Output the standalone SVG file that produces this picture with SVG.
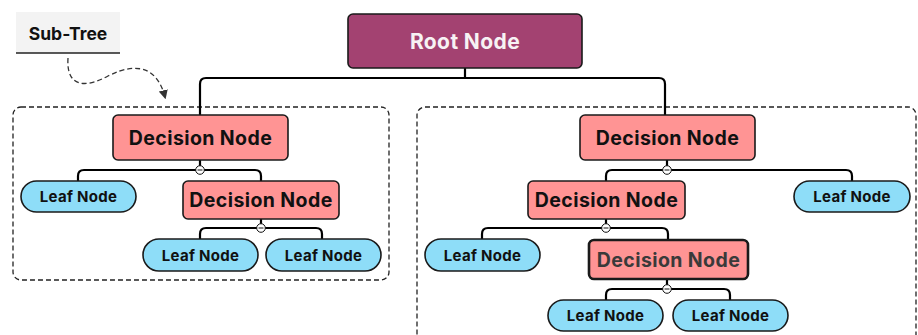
<svg xmlns="http://www.w3.org/2000/svg" width="918" height="335" viewBox="0 0 918 335">
  <defs>
    <style>
      .lbl { font-family: Inter, "Open Sans", "Liberation Sans", sans-serif; font-weight: 700; text-anchor: middle; dominant-baseline: central; }
      .dec rect { fill: #FF9494; stroke: #1a1a1a; stroke-width: 1.6; }
      .dec text { font-size: 19.5px; fill: #111; letter-spacing: 0.4px; }
      .leaf rect { fill: #8EDDF8; stroke: #1a1a1a; stroke-width: 1.6; }
      .leaf text { font-size: 15px; fill: #111; letter-spacing: 0.3px; }
      .wire { fill: none; stroke: #000; stroke-width: 2.2; stroke-linejoin: round; }
      .frame { fill: none; stroke: #222; stroke-width: 1.3; stroke-dasharray: 5 3; }
      .knob-ring { fill: #fff; stroke: #111; stroke-width: 1; }
      .knob-bar { stroke: #111; stroke-width: 1; }
    </style>
    <marker id="tip" viewBox="0 0 8 8" refX="6" refY="4" markerWidth="7" markerHeight="7" orient="auto">
      <path d="M0,0 L8,4 L0,8 Z" fill="#333"/>
    </marker>
    <g id="minus">
      <circle class="knob-ring" r="4.3"/>
      <line class="knob-bar" x1="-2.5" y1="0" x2="2.5" y2="0"/>
    </g>
  </defs>

  <rect width="918" height="335" fill="#fff"/>

  <!-- sub-tree frames -->
  <g id="frames">
    <rect class="frame" x="13" y="107" width="376" height="173" rx="8"/>
    <rect class="frame" x="417" y="107" width="499" height="260" rx="8"/>
  </g>

  <!-- callout label -->
  <g id="subtree-label">
    <rect x="16" y="12" width="104" height="41" fill="#F3F3F3"/>
    <line x1="16" y1="53" x2="120" y2="53" stroke="#222" stroke-width="1.5"/>
    <text class="lbl" x="68" y="33" font-size="17.5" fill="#111">Sub-Tree</text>
    <path d="M68,58 C66,88 86,88 108,76 C140,60 158,70 165,97" fill="none" stroke="#333" stroke-width="1.3" stroke-dasharray="5 3" marker-end="url(#tip)"/>
  </g>

  <!-- connectors -->
  <g id="connectors">
    <path class="wire" d="M465,68 V78 M200,117 V84 Q200,78 206,78 H659 Q665,78 665,84 V116"/>
    <path class="wire" d="M200,160 V170 M78,181 V176 Q78,170 84,170 H255 Q261,170 261,176 V181"/>
    <path class="wire" d="M261,219 V228 M200,239 V234 Q200,228 206,228 H316 Q322,228 322,234 V239"/>
    <path class="wire" d="M667,160 V170 M606,181 V176 Q606,170 612,170 H846 Q852,170 852,176 V181"/>
    <path class="wire" d="M606,219 V228 M482,239 V234 Q482,228 488,228 H662 Q668,228 668,234 V240"/>
    <path class="wire" d="M667,279 V289 M606,300 V295 Q606,289 612,289 H724 Q730,289 730,295 V300"/>
    <use href="#minus" x="200" y="170"/>
    <use href="#minus" x="261" y="228"/>
    <use href="#minus" x="667" y="170"/>
    <use href="#minus" x="606" y="228"/>
    <use href="#minus" x="667" y="289"/>
  </g>

  <!-- root -->
  <g id="root">
    <rect x="348" y="14" width="234" height="54" rx="5" fill="#A34271" stroke="#1a1a1a" stroke-width="1.6"/>
    <text class="lbl" x="465" y="41" font-size="21" fill="#F7F2F4" letter-spacing="0.4">Root Node</text>
  </g>

  <!-- left sub-tree -->
  <g id="dec-l1" class="dec">
    <rect x="113" y="115" width="175" height="45" rx="5"/>
    <text class="lbl" x="200.5" y="137.5">Decision Node</text>
  </g>
  <g id="leaf-l1" class="leaf">
    <rect x="21" y="181" width="115" height="31" rx="15.5"/>
    <text class="lbl" x="78.5" y="196.5">Leaf Node</text>
  </g>
  <g id="dec-l2" class="dec">
    <rect x="183" y="181" width="156" height="38" rx="5"/>
    <text class="lbl" x="261" y="200">Decision Node</text>
  </g>
  <g id="leaf-l2" class="leaf">
    <rect x="143" y="239" width="115" height="32" rx="16"/>
    <text class="lbl" x="200.5" y="255">Leaf Node</text>
  </g>
  <g id="leaf-l3" class="leaf">
    <rect x="266" y="239" width="115" height="32" rx="16"/>
    <text class="lbl" x="323.5" y="255">Leaf Node</text>
  </g>

  <!-- right sub-tree -->
  <g id="dec-r1" class="dec">
    <rect x="580" y="115" width="175" height="45" rx="5"/>
    <text class="lbl" x="667.5" y="137.5">Decision Node</text>
  </g>
  <g id="dec-r2" class="dec">
    <rect x="528" y="181" width="157" height="38" rx="5"/>
    <text class="lbl" x="606.5" y="200">Decision Node</text>
  </g>
  <g id="leaf-r1" class="leaf">
    <rect x="794" y="181" width="116" height="31" rx="15.5"/>
    <text class="lbl" x="852" y="196.5">Leaf Node</text>
  </g>
  <g id="leaf-r2" class="leaf">
    <rect x="425" y="239" width="115" height="32" rx="16"/>
    <text class="lbl" x="482.5" y="255">Leaf Node</text>
  </g>
  <g id="dec-r3" class="dec">
    <rect x="589" y="240" width="159" height="39" rx="5" style="stroke-width:2.6"/>
    <text class="lbl" x="668.5" y="259.5" style="fill:#3A3A3A">Decision Node</text>
  </g>
  <g id="leaf-r3" class="leaf">
    <rect x="548" y="300" width="115" height="31" rx="15.5"/>
    <text class="lbl" x="605.5" y="315.5">Leaf Node</text>
  </g>
  <g id="leaf-r4" class="leaf">
    <rect x="673" y="300" width="115" height="31" rx="15.5"/>
    <text class="lbl" x="730.5" y="315.5">Leaf Node</text>
  </g>
</svg>
